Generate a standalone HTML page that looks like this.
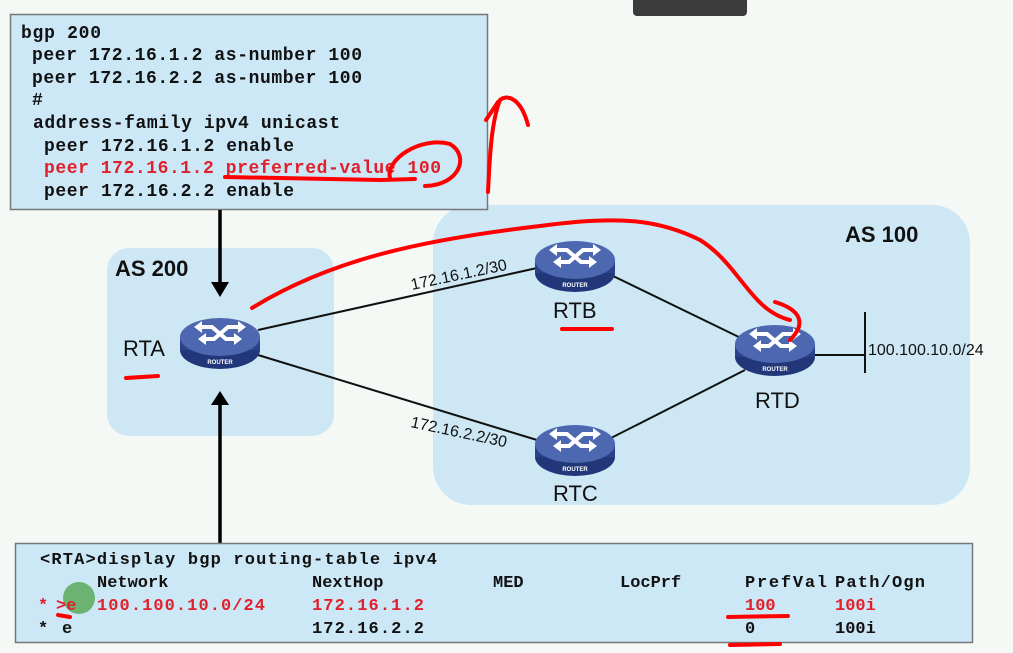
<!DOCTYPE html>
<html><head><meta charset="utf-8"><style>
html,body{margin:0;padding:0;background:#f5f9f6;}
svg{display:block}
.m{font-family:"Liberation Mono",monospace;font-weight:bold;font-size:18px;}
.t{font-family:"Liberation Mono",monospace;font-weight:bold;font-size:17px;}
.s{font-family:"Liberation Sans",sans-serif;}
</style></head><body>
<svg width="1013" height="653" viewBox="0 0 1013 653" xmlns="http://www.w3.org/2000/svg">
<defs>
<g id="r">
<ellipse cx="0" cy="13" rx="40" ry="19" fill="#22367a"/>
<rect x="-40" y="0" width="80" height="13" fill="#2c4288"/>
<ellipse cx="0" cy="0" rx="40" ry="19" fill="#4d68b0"/>
<g stroke="#fff" stroke-width="4" fill="none">
<path d="M-22,-10 L-8,-10 L6,2 L18,2"/><path d="M22,-10 L8,-10 L-6,2 L-18,2"/>
</g>
<g fill="#fff"><path d="M-26,-10 l8,-6 v12z"/><path d="M26,-10 l-8,-6 v12z"/><path d="M-22,2 l8,-6 v12z"/><path d="M22,2 l-8,-6 v12z"/></g>
<text x="0" y="27" font-size="6" fill="#fff" text-anchor="middle" font-family="Liberation Sans" font-weight="bold">ROUTER</text>
</g>
</defs>
<rect x="633" y="-8" width="114" height="24" rx="4" fill="#3b3b3b"/>
<rect x="107" y="248" width="227" height="188" rx="22" fill="#cde7f4"/>
<rect x="433" y="205" width="537" height="300" rx="38" fill="#cde7f4"/>
<rect x="10.5" y="14.5" width="477" height="195" fill="#cce8f6" stroke="#777" stroke-width="1.5"/>
<g class="m" fill="#111">
<text x="21" y="38" textLength="80">bgp 200</text>
<text x="32" y="60" textLength="330">peer 172.16.1.2 as-number 100</text>
<text x="32" y="83" textLength="330">peer 172.16.2.2 as-number 100</text>
<text x="32" y="105">#</text>
<text x="33" y="128" textLength="307">address-family ipv4 unicast</text>
<text x="44" y="151" textLength="250">peer 172.16.1.2 enable</text>
<text x="44" y="173" fill="#e0202a" textLength="397">peer 172.16.1.2 preferred-value 100</text>
<text x="44" y="196" textLength="250">peer 172.16.2.2 enable</text>
</g>
<g stroke="#000" stroke-width="3.5">
<line x1="220" y1="210" x2="220" y2="285"/><line x1="220" y1="543" x2="220" y2="402"/>
</g>
<path d="M211,282 L229,282 L220,297z" fill="#000"/>
<path d="M211,405 L229,405 L220,391z" fill="#000"/>
<g stroke="#111" stroke-width="2">
<line x1="258" y1="330" x2="537" y2="268"/>
<line x1="258" y1="355" x2="537" y2="440"/>
<line x1="611" y1="275" x2="745" y2="340"/>
<line x1="611" y1="438" x2="745" y2="370"/>
<line x1="815" y1="355" x2="865" y2="355"/>
<line x1="865" y1="312" x2="865" y2="373"/>
</g>
<use href="#r" x="220" y="337"/>
<use href="#r" x="575" y="260"/>
<use href="#r" x="575" y="444"/>
<use href="#r" x="775" y="344"/>
<g class="s" fill="#111">
<text x="115" y="276" font-size="22" font-weight="bold">AS 200</text>
<text x="845" y="242" font-size="22" font-weight="bold">AS 100</text>
<text x="123" y="356" font-size="22">RTA</text>
<text x="553" y="318" font-size="22">RTB</text>
<text x="553" y="501" font-size="22">RTC</text>
<text x="755" y="408" font-size="22">RTD</text>
<text x="868" y="355" font-size="16">100.100.10.0/24</text>
<text x="412" y="290" font-size="16" transform="rotate(-12 412 290)">172.16.1.2/30</text>
<text x="410" y="427" font-size="16" transform="rotate(12 410 427)">172.16.2.2/30</text>
</g>
<rect x="15.5" y="543.5" width="957" height="99" fill="#cce8f6" stroke="#777" stroke-width="1.5"/>
<circle cx="79" cy="598" r="16" fill="#5aa85a" opacity="0.85"/>
<g class="t" fill="#111">
<text x="40" y="564" textLength="397">&lt;RTA&gt;display bgp routing-table ipv4</text>
<text x="97" y="587">Network</text><text x="312" y="587">NextHop</text><text x="493" y="587">MED</text><text x="620" y="587">LocPrf</text><text x="745" y="587" textLength="82">PrefVal</text><text x="835" y="587" textLength="90">Path/Ogn</text>
<g fill="#e0202a"><text x="38" y="610">*</text><text x="56" y="610">&gt;e</text><text x="97" y="610" textLength="168">100.100.10.0/24</text><text x="312" y="610" textLength="112">172.16.1.2</text><text x="745" y="610">100</text><text x="835" y="610">100i</text></g>
<text x="38" y="633">*</text><text x="62" y="633">e</text><text x="312" y="633" textLength="112">172.16.2.2</text><text x="745" y="633">0</text><text x="835" y="633">100i</text>
</g>
<g stroke="#f00" stroke-width="4" fill="none" stroke-linecap="round">
<path d="M225,177 L380,180 L415,179"/>
<path d="M390,178 C385,160 420,136 450,144 C470,156 460,185 425,186"/>
<path d="M488,192 C490,150 492,120 500,100 C505,95 520,95 528,125"/>
<path d="M486,120 L498,102"/>
<path d="M252,308 C330,260 420,240 540,226 C620,215 660,220 700,240 C740,265 750,310 790,320"/>
<path d="M775,302 C795,308 810,320 790,340"/>
<path d="M126,378 L158,376"/>
<path d="M562,329 L612,329"/>
<path d="M728,617 L788,616"/>
<path d="M730,645 L780,644"/>
<path d="M58,615 L70,617"/>
</g>
</svg>
</body></html>
